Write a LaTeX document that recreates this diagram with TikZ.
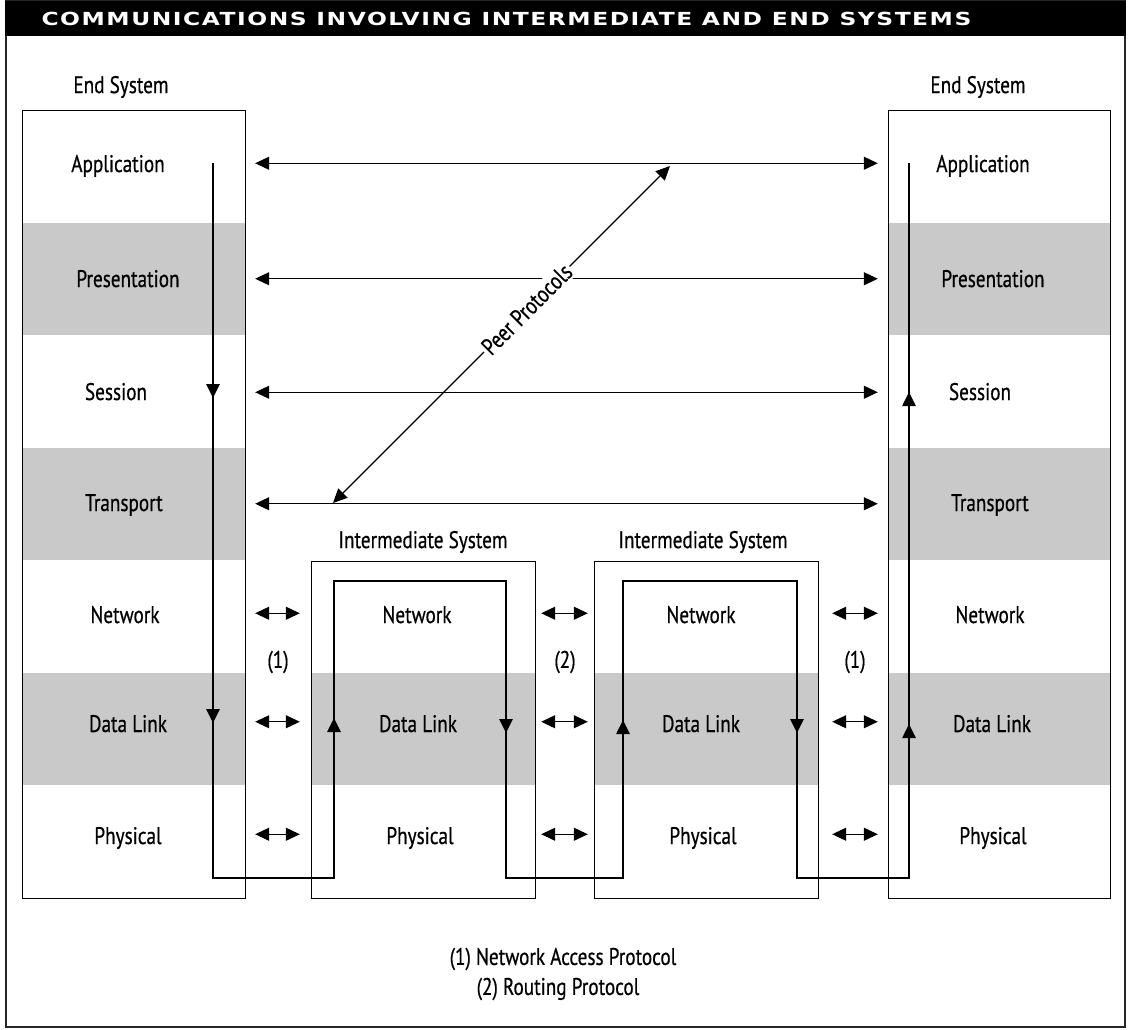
\documentclass[tikz,border=0pt]{standalone}
\usepackage{fontspec}
\usepackage{xcolor}
\usepackage{tikz}
\usetikzlibrary{arrows.meta,positioning,decorations.markings}
\newfontfamily\gill[FakeStretch=0.8,FakeBold=0.6]{PT Sans}
\newfontfamily\titlefont[FakeStretch=1.3,LetterSpace=8.5]{DejaVu Sans}
\definecolor{bandgray}{RGB}{200,201,200}

\begin{document}
\begin{tikzpicture}[x=1pt, y=-1pt, >={Triangle[length=14pt,width=13pt]},
    every node/.style={font=\gill\fontsize{24}{27}\selectfont},
    layer/.style={minimum height=112.5pt, inner sep=0pt},
    shaded/.style={layer, fill=bandgray},
    sysbox/.style={draw, line width=1pt, inner sep=0pt, minimum height=#1},
    peer/.style={<->, line width=1.1pt},
    flow/.style={line width=2.6pt, postaction={decorate}}]
        \useasboundingbox (0,0) rectangle (1128,1029);
        % frame and title bar
        \draw[line width=1.5pt, black!85] (6,1) rectangle (1125,1027);
        \fill (5,1) rectangle (1126,36);
        \node[anchor=west, text=white, font=\titlefont\bfseries\fontsize{18}{20}\selectfont] (title) at (38,19) {COMMUNICATIONS INVOLVING INTERMEDIATE AND END SYSTEMS};

        % left end system
        \node[layer, minimum width=223pt] (lApp) at (133.5,166.25) {};
        \node[shaded, minimum width=223pt] (lPre) at (133.5,278.75) {};
        \node[layer, minimum width=223pt] (lSes) at (133.5,391.25) {};
        \node[shaded, minimum width=223pt] (lTra) at (133.5,503.75) {};
        \node[layer, minimum width=223pt] (lNet) at (133.5,616.25) {};
        \node[shaded, minimum width=223pt] (lDat) at (133.5,728.75) {};
        \node[layer, minimum width=223pt] (lPhy) at (133.5,841.25) {};
        \node[sysbox=788pt, minimum width=223pt] (lBox) at (133.5,504) {};
        \node (lTitle) at (121,87) {End System};

        % right end system
        \node[layer, minimum width=222pt] (rApp) at (999,166.25) {};
        \node[shaded, minimum width=222pt] (rPre) at (999,278.75) {};
        \node[layer, minimum width=222pt] (rSes) at (999,391.25) {};
        \node[shaded, minimum width=222pt] (rTra) at (999,503.75) {};
        \node[layer, minimum width=222pt] (rNet) at (999,616.25) {};
        \node[shaded, minimum width=222pt] (rDat) at (999,728.75) {};
        \node[layer, minimum width=222pt] (rPhy) at (999,841.25) {};
        \node[sysbox=788pt, minimum width=222pt] (rBox) at (999,504) {};
        \node (rTitle) at (978,87) {End System};

        % intermediate systems
        \node[layer, minimum width=224pt] (aNet) at (423,616.25) {};
        \node[shaded, minimum width=224pt] (aDat) at (423,728.75) {};
        \node[layer, minimum width=224pt] (aPhy) at (423,841.25) {};
        \node[sysbox=337pt, minimum width=224pt] (aBox) at (423,729.5) {};
        \node (aTitle) at (423,542) {Intermediate System};
        \node[layer, minimum width=224pt] (bNet) at (706,616.25) {};
        \node[shaded, minimum width=224pt] (bDat) at (706,728.75) {};
        \node[layer, minimum width=224pt] (bPhy) at (706,841.25) {};
        \node[sysbox=337pt, minimum width=224pt] (bBox) at (706,729.5) {};
        \node (bTitle) at (703,542) {Intermediate System};

        % layer names
        \node[anchor=base] (tlApp) at (118,172) {Application};
        \node[anchor=base] (tlPre) at (128,287) {Presentation};
        \node[anchor=base] (tlSes) at (116,400) {Session};
        \node[anchor=base] (tlTra) at (124,511) {Transport};
        \node[anchor=base] (tlNet) at (125,623) {Network};
        \node[anchor=base] (tlDat) at (128,732) {Data Link};
        \node[anchor=base] (tlPhy) at (128,844) {Physical};
        \node[anchor=base] (trApp) at (983,172) {Application};
        \node[anchor=base] (trPre) at (993,287) {Presentation};
        \node[anchor=base] (trSes) at (980,400) {Session};
        \node[anchor=base] (trTra) at (990,511) {Transport};
        \node[anchor=base] (trNet) at (990,623) {Network};
        \node[anchor=base] (trDat) at (992,732) {Data Link};
        \node[anchor=base] (trPhy) at (993,844) {Physical};
        \node[anchor=base] (taNet) at (417,623) {Network};
        \node[anchor=base] (taDat) at (418,732) {Data Link};
        \node[anchor=base] (taPhy) at (420,844) {Physical};
        \node[anchor=base] (tbNet) at (701,623) {Network};
        \node[anchor=base] (tbDat) at (701,732) {Data Link};
        \node[anchor=base] (tbPhy) at (703,844) {Physical};

        % peer protocol arrows
        \draw[peer, shorten <=10pt, shorten >=10pt] ([yshift=3pt]lApp.east) -- ([yshift=3pt]rApp.west);
        \draw[peer, shorten <=10pt, shorten >=10pt] (lPre.east) -- (rPre.west);
        \draw[peer, shorten <=10pt, shorten >=10pt] ([yshift=-1pt]lSes.east) -- ([yshift=-1pt]rSes.west);
        \draw[peer, shorten <=10pt, shorten >=10pt] (lTra.east) -- (rTra.west);
        \coordinate (peerLow) at (333,503);
        \coordinate (peerHigh) at (670,166);
        \draw[peer] (peerLow) -- node[pos=0.575, sloped, fill=white, inner sep=2pt] (peerText) {Peer Protocols} (peerHigh);

        % link level arrows
        \draw[peer, shorten <=10pt, shorten >=11pt] ([yshift=3pt]lNet.east) -- ([yshift=3pt]aNet.west);
        \draw[peer, shorten <=10pt, shorten >=11pt] ([yshift=7pt]lDat.east) -- ([yshift=7pt]aDat.west);
        \draw[peer, shorten <=10pt, shorten >=11pt] ([yshift=7pt]lPhy.east) -- ([yshift=7pt]aPhy.west);
        \draw[peer, shorten <=6pt, shorten >=6pt] ([yshift=3pt]aNet.east) -- ([yshift=3pt]bNet.west);
        \draw[peer, shorten <=6pt, shorten >=6pt] ([yshift=7pt]aDat.east) -- ([yshift=7pt]bDat.west);
        \draw[peer, shorten <=6pt, shorten >=6pt] ([yshift=7pt]aPhy.east) -- ([yshift=7pt]bPhy.west);
        \draw[peer, shorten <=14pt, shorten >=10pt] ([yshift=3pt]bNet.east) -- ([yshift=3pt]rNet.west);
        \draw[peer, shorten <=14pt, shorten >=10pt] ([yshift=7pt]bDat.east) -- ([yshift=7pt]rDat.west);
        \draw[peer, shorten <=14pt, shorten >=10pt] ([yshift=7pt]bPhy.east) -- ([yshift=7pt]rPhy.west);
        \node (accA) at (278,662) {(1)};
        \node (route) at (565,662) {(2)};
        \node (accB) at (855,662) {(1)};

        % data flow through the stacks
        \coordinate (src) at (213,163);
        \coordinate (dst) at (909,163);
        \draw[flow, decoration={markings,
                mark=at position 235pt with {\arrow{>}},
                mark=at position 560pt with {\arrow{>}},
                mark=at position 996pt with {\arrow{>}},
                mark=at position 1457pt with {\arrow{>}},
                mark=at position 1877pt with {\arrow{>}},
                mark=at position 2342pt with {\arrow{>}},
                mark=at position 2753pt with {\arrow{>}},
                mark=at position 3085pt with {\arrow{>}}}]
            (src) -- (213,878) -- (334,878) -- (334,581) -- (506,581) -- (506,878)
            -- (623,878) -- (623,581) -- (797,581) -- (797,878) -- (909,878) -- (dst);

        % legend
        \node (legA) at (563,959) {(1) Network Access Protocol};
        \node (legB) at (558,989) {(2) Routing Protocol};
    \end{tikzpicture}
\end{document}
